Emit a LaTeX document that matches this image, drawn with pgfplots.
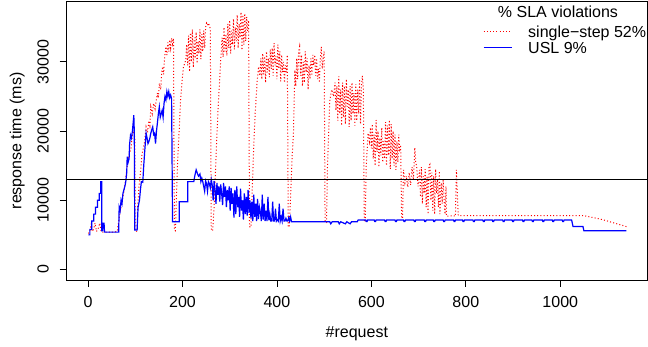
\documentclass[border=0pt]{standalone}
\usepackage{pgfplots}
\pgfplotsset{compat=1.18}
\usepackage{fontspec}
\setmainfont{Liberation Sans}
\begin{document}
\begin{tikzpicture}[font=\fontsize{16}{19}\selectfont]
\useasboundingbox (-66.7pt,-67pt) rectangle (581.3pt,280pt);
\draw[black, line width=0.8pt] (0pt,0pt) rectangle (580.3pt,278.3pt);
\begin{axis}[
  scale only axis, width=580.3pt, height=278.3pt,
  xmin=-45.1, xmax=1183.6, ymin=-1517, ymax=38697,
  ytick scale label code/.code={}, xtick scale label code/.code={},
  axis line style={black, line width=0.8pt},
  axis lines=box,
  tick pos=left, tick align=outside, major tick length=7pt,
  tick style={black, line width=0.8pt},
  xtick={0,200,400,600,800,1000}, xticklabels={0,200,400,600,800,1000},
  ytick={0,10000,20000,30000}, yticklabels={0,10000,20000,30000},
  xticklabel style={anchor=north, inner sep=0pt, yshift=-9.5pt},
  yticklabel style={xshift=-11pt, rotate=90, anchor=base, inner sep=0pt},
  xlabel={\#request}, ylabel={response time (ms)},
  xlabel style={at={(axis description cs:0.5,-0.207)}, anchor=base, inner sep=0pt},
  ylabel style={at={(axis description cs:-0.0779,0.5)}, anchor=base, inner sep=0pt},
  clip=true,
  legend style={at={(axis description cs:0.7174,0.9127)}, anchor=north west, draw=none, fill=none,
    inner sep=0pt, outer sep=0pt, row sep=0pt,
    nodes={inner sep=0pt, text height=12pt, text depth=4pt, anchor=base west}},
  legend cell align=left,
]
\addplot[color=red, line width=1pt, dash pattern=on 1pt off 2.2pt,
  legend image code/.code={\pgfsetstrokecolor{red}\pgfsetlinewidth{1pt}\pgfsetdash{{1pt}{2.2pt}}{0pt}\pgfpathmoveto{\pgfpoint{0pt}{6.5pt}}\pgfpathlineto{\pgfpoint{28pt}{6.5pt}}\pgfusepath{stroke}\path (44pt,0pt);}] coordinates {
(1,5200)(4,5600)(7,6600)(9,5500)(12,5800)(15,6700)(18,5500)(22,6000)(25,6700)(28,5400)(40,5400)(55,5400)(62,5500)(66,7500)(70,9000)(74,10500)(78,12000)(82,14500)(85,16000)(88,16800)(91,17500)(94,19500)(97,20000)(99,19000)(100,5600)(104,5500)
(105,9000)(108,12000)(111,14000)(114,16500)(117,17500)(120,18500)(123,20600)(126,19800)(129,21500)(131,20800)(133,23500)(136,22500)(139,24000)(142,23200)(144,24200)(147,25500)(149,24800)(151,26900)(154,26000)(156,28500)(158,29300)(160,28200)(162,30500)(165,32200)(167,31000)(169,32800)(171,31500)(173,33200)(175,32000)(177,33400)(179,32600)(181,33400)(183,5700)(185,5600)
(187,10000)(190,16000)(193,20000)(196,24500)(199,27000)(202,29300)(205,29800)(207,30300)(209,32500)(211,29500)(213,33800)(215,28600)(217,34200)(219,30000)(221,34700)(223,29200)(225,33500)(227,30500)(229,34300)(231,29800)(233,33000)(235,31200)(237,34700)(239,30400)(241,34000)(243,31500)(245,34500)(247,32000)(249,35000)(251,35600)(253,35300)(255,35600)(257,35200)(259,34800)(261,5700)(264,5600)
(267,9000)(272,18000)(276,24000)(278,26400)(281,30300)(284,33500)(286,30700)(288,35000)(290,31500)(292,34000)(294,30900)(296,35500)(298,32000)(300,36000)(302,31200)(304,34500)(306,32500)(308,36200)(310,31800)(312,35000)(314,33000)(316,36800)(318,32000)(320,35500)(322,33500)(324,37200)(326,31700)(328,36800)(330,32500)(332,37000)(334,33000)(336,36500)(338,34500)(340,36000)(342,6200)(345,6100)
(347,10000)(351,18000)(354,22600)(358,27000)(361,29300)(364,28000)(366,30500)(368,27500)(370,31200)(372,28200)(374,30800)(376,27000)(378,31500)(380,28500)(382,30500)(384,27800)(386,31800)(388,29000)(390,32000)(392,28000)(394,32700)(396,29500)(398,30800)(400,27500)(402,32500)(404,29000)(406,31500)(408,27200)(410,31000)(412,28500)(414,30000)(416,27000)(418,29500)(420,28500)(422,31000)(424,6200)(426,6100)
(428,9000)(432,16000)(435,19700)(438,28800)(440,26500)(442,30500)(444,27500)(446,31500)(448,32200)(450,28000)(452,31000)(454,26500)(456,30000)(458,27000)(460,31500)(462,28500)(464,30500)(466,26000)(468,29500)(470,27500)(472,30500)(474,28000)(476,31000)(478,29500)(480,31000)(482,28000)(484,30500)(486,27500)(488,29000)(490,27000)(492,30500)(494,32200)(496,29000)(498,30500)(500,31500)(502,6900)(505,6800)
(507,14800)(512,24500)(516,26000)(520,25000)(523,27000)(525,23000)(527,26500)(529,21500)(531,27900)(533,22500)(535,26000)(537,20800)(539,27000)(541,22000)(543,26500)(545,21000)(547,27500)(549,23500)(551,26000)(553,20600)(555,26500)(557,21500)(559,27000)(561,22500)(563,25500)(565,20800)(567,26800)(569,21500)(571,26000)(573,22500)(575,27500)(577,21000)(579,26500)(581,28000)(583,26000)(585,6900)(587,6900)
(589,14800)(593,19700)(596,18500)(598,20500)(600,17500)(602,21000)(604,16000)(606,19500)(608,15000)(610,21600)(612,17000)(614,20000)(616,14800)(618,19000)(620,16500)(622,20500)(624,15500)(626,18500)(628,16000)(630,21300)(632,15000)(634,20800)(636,16500)(638,21600)(640,14500)(642,21000)(644,16000)(646,20000)(648,15000)(650,19500)(652,14400)(654,18500)(656,15500)(658,19500)(660,17000)(662,18000)(664,7400)(666,7400)
(668,14400)(671,12500)(674,13500)(677,11900)(680,14000)(683,12200)(686,14800)(689,13000)(692,17600)(694,15500)(696,14800)(699,12000)(702,14400)(704,10500)(706,14800)(708,9500)(710,13500)(712,11000)(714,14500)(716,9000)(718,13500)(720,8000)(722,15000)(724,15200)(726,10000)(728,14000)(730,8500)(732,13500)(734,8000)(736,14500)(738,11000)(740,13000)(742,9000)(744,14200)(745,8000)(748,12500)(750,9500)(752,13000)(754,10000)(756,8000)(758,12000)(759,7700)(765,7700)(772,7800)(778,7700)(780,14400)(782,11000)(784,7800)
(800,7800)(850,7800)(900,7800)(950,7800)(1000,7800)(1048,7800)(1070,7500)(1090,7200)(1110,6800)(1130,6400)(1140,6200)
};
\addlegendentry{single−step 52\%}
\addplot[color=blue, line width=1.2pt,
  legend image code/.code={\pgfsetstrokecolor{blue}\pgfsetlinewidth{1.2pt}\pgfpathmoveto{\pgfpoint{0pt}{6.5pt}}\pgfpathlineto{\pgfpoint{28pt}{6.5pt}}\pgfusepath{stroke}\path (44pt,0pt);}] coordinates {
(1,5000)(4,5000)(4,5800)(8,5800)(8,7000)(12,7000)(12,8000)(16,8000)(16,9000)(20,9000)(20,10000)(24,10000)(24,11000)(27,11000)(27,12700)(29,12700)(29,5600)(31,5600)(32,6700)(34,6700)(35,5400)(65,5400)
(66,9000)(68,8500)(70,10000)(72,9500)(74,11000)(76,11500)(78,12000)(80,12700)(82,14000)(83,16300)(85,15500)(87,16000)(88,18000)(90,19400)(92,19000)(94,20000)(96,21500)(97,22300)(98,20000)(99,5700)(104,5700)
(106,9000)(109,10000)(111,11500)(113,12700)(116,12600)(118,15000)(120,17000)(123,19700)(125,19000)(127,18200)(129,18500)(131,19000)(133,19700)(135,20200)(137,20600)(139,19500)(141,19700)(143,18200)(145,20000)(147,21200)(149,22500)(151,23500)(153,22000)(155,22500)(157,23000)(159,22000)(161,24000)(163,25000)(165,24500)(167,25700)(169,25000)(171,25700)(173,24800)(175,25200)(177,24700)(179,6900)(193,6900)(193,9800)(211,9800)(211,12700)(224,12700)
(226,13500)(229,14400)(232,13800)(234,13500)(237,13800)(239,12700)(241,13200)(243,12700)(245,12000)(247,11300)(249,12800)(251,12400)(253,11300)(255,12700)(257,12400)(259,11800)(261,13000)(263,12200)(265,10000)(267,12800)(269,11500)(271,9500)(273,12500)(275,10800)(277,12000)(279,9800)(281,12300)(283,11000)(285,9300)(287,12500)(289,10500)(291,12000)(293,9000)(295,11500)(297,10000)(299,12000)(301,8500)(303,11800)(305,9500)(307,11000)(309,7500)(311,11500)(313,8000)(315,12000)(317,9000)(319,10500)(321,7600)(323,11700)(325,8500)(327,10000)(329,7200)(331,11000)(333,8000)(335,10500)(337,7800)(339,11500)(341,8200)(343,10000)(345,7400)(347,9800)(349,7000)(351,10800)(353,7600)(355,9500)(357,7000)(359,10200)(361,7300)(363,9000)(365,8300)(367,7000)(369,10800)(371,7200)(373,9500)(375,7000)(377,8500)(379,7000)(381,10500)(383,7100)(385,8000)(387,7000)(389,7000)(391,9800)(393,7000)(395,7000)(397,8800)(399,7000)(401,7200)(403,7000)(405,9500)(407,7000)(409,7600)(411,7000)(413,8800)(415,7000)(417,7000)(419,7400)(421,7000)(423,7000)(425,7500)(427,7000)(429,7600)(431,6900)(435,6900)
(512,6900)(514,6600)(517,6900)(530,6900)(532,6600)(535,6900)(545,6600)(548,6900)(555,6600)(558,6900)(570,6900)(572,7150)
(588,7150)(589,6950)(591,6950)(592,7150)(606,7150)(607,6950)(609,6950)(610,7150)(628,7150)(629,6950)(631,6950)(632,7150)(650,7150)(651,6950)(653,6950)(654,7150)(668,7150)(669,6950)(671,6950)(672,7150)(690,7150)(691,6950)(693,6950)(694,7150)(712,7150)(713,6950)(715,6950)(716,7150)(731,7150)(732,6950)(734,6950)(735,7150)(752,7150)(753,6950)(755,6950)(756,7150)(774,7150)(775,6950)(777,6950)(778,7150)(793,7150)(794,6950)(796,6950)(797,7150)(815,7150)(816,6950)(818,6950)(819,7150)(836,7150)(837,6950)(839,6950)(840,7150)(856,7150)(857,6950)(859,6950)(860,7150)(878,7150)(879,6950)(881,6950)(882,7150)(898,7150)(899,6950)(901,6950)(902,7150)(920,7150)(921,6950)(923,6950)(924,7150)(940,7150)(941,6950)(943,6950)(944,7150)(962,7150)(963,6950)(965,6950)(966,7150)(983,7150)(984,6950)(986,6950)(987,7150)(1004,7150)(1005,6950)(1007,6950)(1008,7150)
(1024,7150)(1027,6200)(1048,6200)(1050,5600)(1140,5600)
};
\addlegendentry{USL 9\%}
\addplot[black, line width=0.8pt, forget plot] coordinates {(-60,13000)(1200,13000)};
\node[anchor=base, inner sep=0pt] at (axis description cs:0.8466,0.9440) {\% SLA violations};
\end{axis}
\end{tikzpicture}
\end{document}
